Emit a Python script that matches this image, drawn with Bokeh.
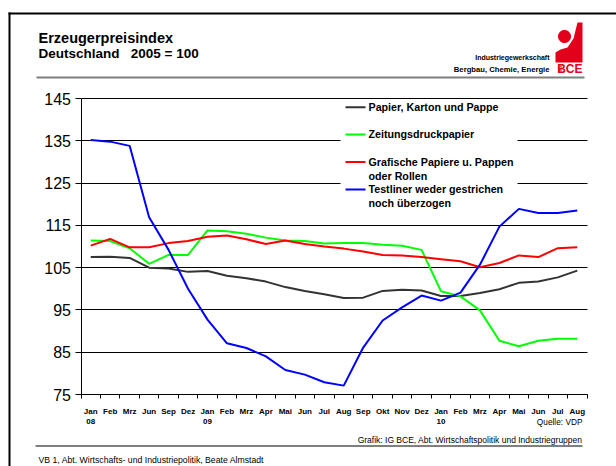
import math
from bokeh.plotting import figure
from bokeh.models import (FixedTicker, Label, BoxAnnotation, PolyAnnotation, Range1d,
                          LinearAxis, Grid)
from bokeh.embed import file_html
from bokeh.resources import INLINE

# ---------------- data ----------------
months = ["Jan\n08", "Feb", "Mrz", "Jun", "Sep", "Dez",
          "Jan\n09", "Feb", "Mrz", "Apr", "Mai", "Jun", "Jul", "Aug", "Sep", "Okt", "Nov", "Dez",
          "Jan\n10", "Feb", "Mrz", "Apr", "Mai", "Jun", "Jul", "Aug"]
papier = [107.5, 107.6, 107.3, 105.0, 104.8, 104.0, 104.2, 103.1, 102.5, 101.7, 100.4, 99.5, 98.7,
          97.8, 97.9, 99.5, 99.8, 99.6, 98.3, 98.3, 99.0, 99.9, 101.4, 101.7, 102.7, 104.3]
zeitung = [111.4, 111.3, 109.6, 105.9, 108.0, 108.0, 113.8, 113.6, 113.0, 112.1, 111.4, 111.3, 110.7,
           110.8, 110.8, 110.4, 110.2, 109.2, 99.4, 98.2, 94.9, 87.7, 86.4, 87.7, 88.2, 88.2]
grafisch = [110.2, 111.8, 109.8, 109.8, 110.8, 111.3, 112.3, 112.6, 111.7, 110.6, 111.4, 110.6, 110.0,
            109.5, 108.8, 108.0, 107.9, 107.5, 107.0, 106.5, 105.1, 106.1, 107.9, 107.5, 109.6, 109.8]
testliner = [135.2, 134.8, 133.8, 116.9, 109.2, 100.0, 92.7, 87.1, 86.0, 84.0, 80.8, 79.7, 77.9,
             77.1, 86.1, 92.5, 95.6, 98.4, 97.2, 99.1, 105.7, 114.7, 118.9, 117.9, 117.9, 118.5]
series_names = ["Papier, Karton und Pappe", "Zeitungsdruckpapier",
                "Grafische Papiere u. Pappen\noder Rollen", "Testliner weder gestrichen\nnoch überzogen"]
series_colors = ["#333333", "#00ff00", "#ff0000", "#0000ff"]
y_ticks = [75, 85, 95, 105, 115, 125, 135, 145]
Y_MIN, Y_MAX = 75, 145

FONT = "Liberation Sans"
W, H = 616, 466
# target pixel box of the plotting area inside the canvas
PX_L, PX_R, PX_T, PX_B = 80.5, 586.5, 98, 394

n = len(months)
x = list(range(n))
xpp = (PX_R - PX_L) / n
ypp = (PX_B - PX_T) / (Y_MAX - Y_MIN)
x_range = Range1d(-0.5 - PX_L / xpp, n - 0.5 + (W - PX_R) / xpp)
y_range = Range1d(Y_MIN - (H - PX_B) / ypp, Y_MAX + PX_T / ypp)

p = figure(width=W, height=H, output_backend="svg", toolbar_location=None,
           x_range=x_range, y_range=y_range, x_axis_type=None, y_axis_type=None,
           min_border=0, min_border_left=0, min_border_right=0, min_border_top=0, min_border_bottom=0)
p.outline_line_color = None
p.background_fill_color = "white"
p.border_fill_color = "white"

# horizontal grid lines limited to the plotting area
grid = Grid(dimension=1, ticker=FixedTicker(ticks=y_ticks), grid_line_color="#000000", grid_line_width=1)
if "cross_bounds" in Grid.properties():
    grid.cross_bounds = (-0.5, n - 0.5)
    p.add_layout(grid)
else:
    p.segment(x0=[-0.5] * len(y_ticks), x1=[n - 0.5] * len(y_ticks), y0=y_ticks, y1=y_ticks,
              line_color="#000000", line_width=1)

# y axis
yax = LinearAxis(ticker=FixedTicker(ticks=y_ticks, minor_ticks=[]), fixed_location=-0.5,
                 bounds=(Y_MIN, Y_MAX))
yax.axis_line_color = "black"
yax.major_tick_line_color = "black"
yax.major_tick_out = 6
yax.major_tick_in = 0
yax.minor_tick_line_color = None
yax.major_label_standoff = 4
yax.major_label_text_font = FONT
yax.major_label_text_font_size = "16px"
yax.major_label_text_color = "black"
p.add_layout(yax, "left")

# x axis
xax = LinearAxis(ticker=FixedTicker(ticks=x, minor_ticks=[i - 0.5 for i in range(n + 1)]),
                 fixed_location=Y_MIN, bounds=(-0.5, n - 0.5))
xax.major_label_overrides = {i: m for i, m in enumerate(months)}
xax.axis_line_color = "black"
xax.major_tick_line_color = None
xax.major_tick_out = 0
xax.major_tick_in = 0
xax.minor_tick_line_color = "black"
xax.minor_tick_out = 4
xax.minor_tick_in = 0
xax.major_label_standoff = 8
xax.major_label_text_font = FONT
xax.major_label_text_font_size = "8px"
xax.major_label_text_font_style = "bold"
xax.major_label_text_color = "black"
p.add_layout(xax, "below")


def sx(px):
    return px


def sy(py):
    return H - py


def box(l, t, r, b, color, level="annotation"):
    p.add_layout(BoxAnnotation(left=sx(l), right=sx(r), top=sy(t), bottom=sy(b),
                               left_units="screen", right_units="screen",
                               top_units="screen", bottom_units="screen",
                               fill_color=color, fill_alpha=1, line_color=None, level=level))


def label(px, py, text, size, bold=False, align="left", color="black", baseline="middle", angle=0):
    p.add_layout(Label(x=sx(px), y=sy(py), x_units="screen", y_units="screen", text=text,
                       text_font=FONT, text_font_size=size,
                       text_font_style="bold" if bold else "normal",
                       text_align=align, text_baseline=baseline, text_color=color,
                       angle=angle, text_line_height=1.2))


# legend background (below lines)
box(340, 100, 517, 212, "white", level="underlay")

for ys, c in zip([papier, zeitung, grafisch, testliner], series_colors):
    p.line(x, ys, line_color=c, line_width=2)

# legend
leg_y = [106.7, 134, 161.5, 189]
for yy, name, c in zip(leg_y, series_names, series_colors):
    box(345, yy - 1, 365, yy + 1, c)
    label(368, yy - 6.5, name, "10.7px", bold=True, baseline="top")

# frame border of slide
box(8, 12, 10, 470, "black")
box(8, 12, 620, 14, "black")

# header
label(38, 37, "Erzeugerpreisindex", "14.5px", bold=True)
label(38, 53, "Deutschland\u00a0\u00a0\u00a02005 = 100", "13.5px", bold=True)
label(549, 57, "Industriegewerkschaft", "7px", bold=True, align="right")
label(549, 69, "Bergbau, Chemie, Energie", "7.7px", bold=True, align="right")
box(36, 76, 584, 78, "#7f7f7f")

# logo
body_x = [555, 582, 582, 577, 573, 567, 560, 555]
body_y = [62, 62, 22, 22, 38, 47, 49, 52]
p.add_layout(PolyAnnotation(xs=[sx(v) for v in body_x], ys=[sy(v) for v in body_y],
                            xs_units="screen", ys_units="screen",
                            fill_color="#e2001a", fill_alpha=1, line_color=None))
hx, hy, hr = 564, 36, 6.5
p.add_layout(PolyAnnotation(xs=[sx(hx + hr * math.cos(2 * math.pi * k / 32)) for k in range(32)],
                            ys=[sy(hy + hr * math.sin(2 * math.pi * k / 32)) for k in range(32)],
                            xs_units="screen", ys_units="screen",
                            fill_color="#e2001a", fill_alpha=1, line_color=None))
label(582, 68, "BCE", "12px", bold=True, align="right", color="#e2001a")
label(559, 68, "IG", "6px", bold=True, align="center", color="#e2001a", angle=math.pi / 2)

# footer
label(582, 421, "Quelle: VDP", "8.3px", align="right")
label(582, 439, "Grafik: IG BCE, Abt. Wirtschaftspolitik und Industriegruppen", "8.5px", align="right")
box(35, 445, 582, 446, "black")
label(38, 459, "VB 1, Abt. Wirtschafts- und Industriepolitik, Beate Almstadt", "8.7px")

open("out.html", "w").write(file_html(p, INLINE))
